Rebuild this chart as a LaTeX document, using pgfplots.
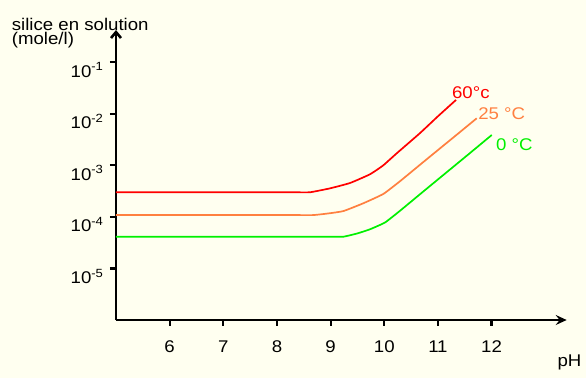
\documentclass[border=0pt]{standalone}
\usepackage{fontspec}
\setmainfont{Liberation Sans}[FakeStretch=1.1]
\usepackage{pgfplots}
\pgfplotsset{compat=1.18}
\usetikzlibrary{arrows.meta}
\definecolor{bg}{RGB}{255,255,240}
\definecolor{cred}{RGB}{255,0,0}
\definecolor{corange}{RGB}{255,128,64}
\definecolor{cgreen}{RGB}{0,240,0}
\begin{document}
\begin{tikzpicture}
\fill[bg] (-116bp,-58bp) rectangle (470bp,320bp);
\useasboundingbox (-116bp,-58bp) rectangle (470bp,320bp);
\begin{axis}[
  at={(0,0)}, anchor=south west,
  scale only axis, width=450.7bp, height=290bp,
  xmin=5, xmax=13.4, ymin=1e-6, ymax=0.417, ymode=log,
  axis lines=left,
  axis line style={line width=2.6bp, black},
  x axis line style={-{Stealth[length=11bp,width=10bp,inset=4bp]}},
  y axis line style={-{Straight Barb[length=6bp,width=10bp]}},
  xtick={6,7,8,9,10,11,12},
  ytick={1e-5,1e-4,1e-3,1e-2,1e-1},
  yticklabels={10\textsuperscript{-5},10\textsuperscript{-4},10\textsuperscript{-3},10\textsuperscript{-2},10\textsuperscript{-1}},
  yminorticks=false, minor y tick num=0,
  tick align=outside, major tick length=6bp,
  tick style={black, line width=2.2bp},
  /pgf/number format/assume math mode=true,
  xticklabel style={font=\fontsize{17}{20}\selectfont, anchor=base, yshift=-27bp},
  yticklabel style={font=\fontsize{17}{19}\selectfont, anchor=base east, yshift=-15bp, xshift=-3bp},
  clip=false,
]
\addplot[cred, line width=1.7bp, smooth, tension=0.25] coordinates {
(5,2.99e-4) (6,2.99e-4) (7,2.99e-4) (8,2.99e-4) (8.3,2.99e-4) (8.616,2.99e-4)
(8.989,3.56e-4) (9.362,4.52e-4) (9.734,6.67e-4) (9.977,9.86e-4)
(10.232,1.70e-3) (10.666,4.19e-3) (11.002,8.91e-3) (11.337,1.84e-2)};
\addplot[corange, line width=1.7bp, smooth, tension=0.25] coordinates {
(5,1.08e-4) (6,1.08e-4) (7,1.08e-4) (8,1.08e-4) (8.35,1.08e-4) (8.678,1.08e-4)
(8.952,1.16e-4) (9.237,1.29e-4) (9.610,1.83e-4) (9.982,2.77e-4) (10.294,4.90e-4)
(10.666,1.02e-3) (11.039,2.12e-3) (11.375,4.09e-3) (11.723,8.11e-3)};
\addplot[cgreen, line width=1.7bp, smooth, tension=0.25] coordinates {
(5,4.11e-5) (6,4.11e-5) (7,4.11e-5) (8,4.11e-5) (8.6,4.11e-5) (9.0,4.11e-5) (9.237,4.11e-5)
(9.492,4.74e-5) (9.734,5.73e-5) (10.014,7.76e-5) (10.294,1.31e-4)
(10.666,2.74e-4) (11.132,6.87e-4) (11.561,1.60e-3) (12.003,3.85e-3)};
\node[anchor=west, inner sep=0pt, text=cred, font=\fontsize{17}{20}\selectfont] at (axis cs:11.26,0.0251) {60°c};
\node[anchor=west, inner sep=0pt, text=corange, font=\fontsize{17}{20}\selectfont] at (axis cs:11.75,0.0098) {25 °C};
\node[anchor=west, inner sep=0pt, text=cgreen, font=\fontsize{17}{20}\selectfont] at (axis cs:12.08,0.00246) {0 °C};
\end{axis}
\node[anchor=north west, inner sep=0pt, align=left, font=\fontsize{17}{14.5}\selectfont] at (-104.3bp,302.3bp) {silice en solution\\(mole/l)};
\node[anchor=base west, inner sep=0pt, font=\fontsize{17}{15}\selectfont] at (441.3bp,-46bp) {pH};
\end{tikzpicture}
\end{document}
